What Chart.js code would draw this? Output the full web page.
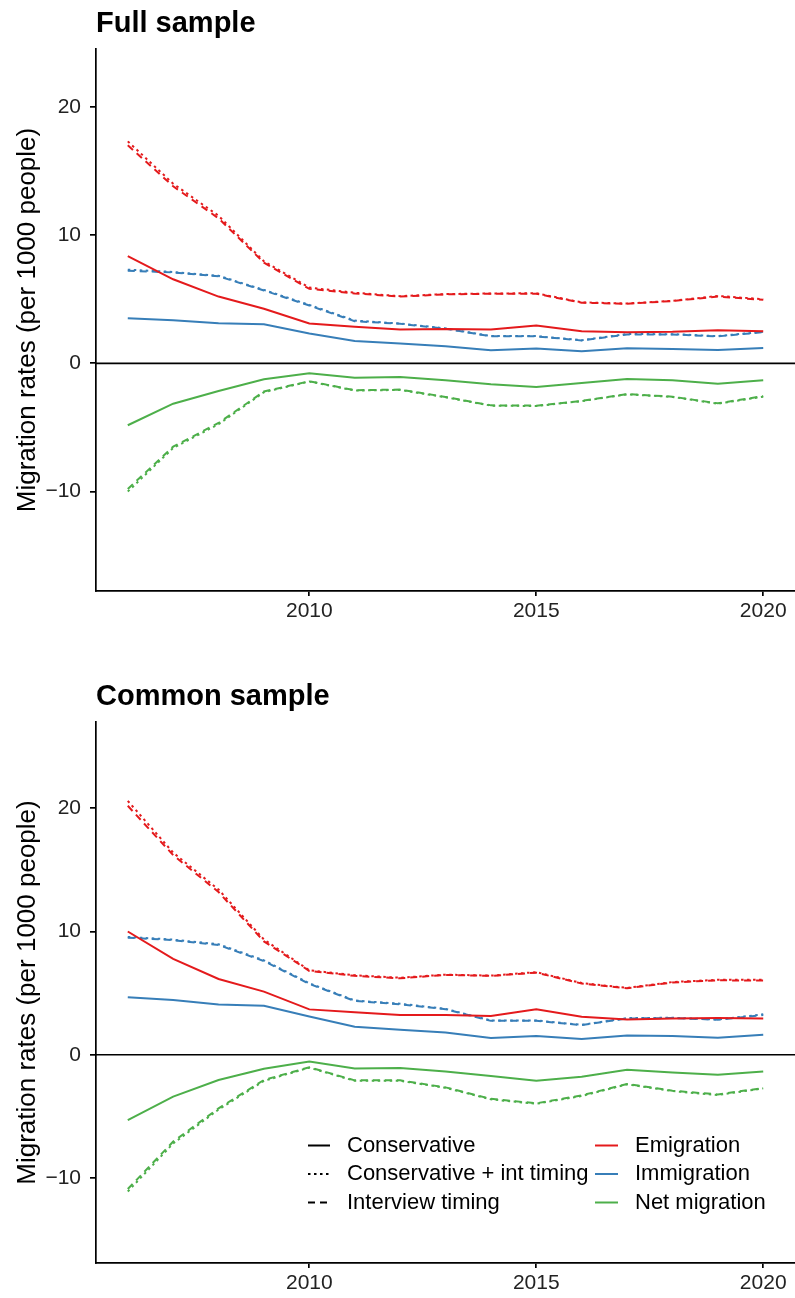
<!DOCTYPE html>
<html>
<head>
<meta charset="utf-8">
<title>Migration rates</title>
<script src="https://cdn.jsdelivr.net/npm/chart.js@4.4.1/dist/chart.umd.min.js"></script>
<style>
  html, body { margin: 0; padding: 0; background: #fff; }
  .panel { position: absolute; left: 0; width: 795px; height: 649px; }
</style>
</head>
<body>
<div class="panel" style="top:0"><canvas id="fullChart"></canvas></div>
<div class="panel" style="top:649px"><canvas id="commonChart"></canvas></div>
<script>
const years = [2006, 2007, 2008, 2009, 2010, 2011, 2012, 2013, 2014, 2015, 2016, 2017, 2018, 2019, 2020];
const xTicks = [2010, 2015, 2020];
const yTicks = [-10, 0, 10, 20];

// Full sample (per 1000 people)
const fullEmigCons    = [8.35, 6.55, 5.2, 4.25, 3.1, 2.84, 2.63, 2.68, 2.63, 2.94, 2.5, 2.42, 2.45, 2.58, 2.5];
const fullEmigConsInt = [17.3, 14.0, 11.5, 7.95, 5.9, 5.5, 5.23, 5.4, 5.44, 5.46, 4.75, 4.66, 4.87, 5.25, 5.0];
const fullEmigInt     = [17.0, 13.8, 11.3, 7.85, 5.8, 5.45, 5.2, 5.37, 5.42, 5.42, 4.72, 4.64, 4.85, 5.2, 4.95];
const fullImmCons     = [3.52, 3.36, 3.12, 3.05, 2.32, 1.74, 1.54, 1.33, 1.02, 1.15, 0.94, 1.17, 1.12, 1.04, 1.2];
const fullImmConsInt  = [7.3, 7.12, 6.82, 5.72, 4.55, 3.33, 3.1, 2.72, 2.12, 2.12, 1.8, 2.28, 2.27, 2.12, 2.46];
const fullImmInt      = [7.22, 7.08, 6.78, 5.68, 4.5, 3.28, 3.08, 2.7, 2.1, 2.1, 1.78, 2.25, 2.25, 2.1, 2.43];
const fullNetCons     = [-4.83, -3.15, -2.16, -1.25, -0.78, -1.12, -1.07, -1.33, -1.64, -1.85, -1.54, -1.22, -1.33, -1.59, -1.33];
const fullNetConsInt  = [-10.0, -6.6, -4.75, -2.25, -1.42, -2.12, -2.08, -2.65, -3.3, -3.33, -2.95, -2.42, -2.62, -3.15, -2.6];
const fullNetInt      = [-9.8, -6.5, -4.65, -2.2, -1.4, -2.1, -2.05, -2.62, -3.28, -3.3, -2.93, -2.4, -2.6, -3.12, -2.56];

// Common sample (per 1000 people)
const commonEmigCons    = [10.0, 7.78, 6.15, 5.12, 3.68, 3.44, 3.22, 3.22, 3.14, 3.68, 3.09, 2.85, 2.95, 2.98, 2.95];
const commonEmigConsInt = [20.6, 16.4, 13.4, 9.35, 6.85, 6.45, 6.25, 6.5, 6.42, 6.7, 5.82, 5.42, 5.9, 6.08, 6.08];
const commonEmigInt     = [20.2, 16.2, 13.2, 9.2, 6.8, 6.4, 6.2, 6.48, 6.4, 6.66, 5.78, 5.4, 5.86, 6.04, 6.02];
const commonImmCons     = [4.66, 4.44, 4.07, 3.98, 3.1, 2.28, 2.03, 1.81, 1.36, 1.52, 1.27, 1.57, 1.52, 1.38, 1.63];
const commonImmConsInt  = [9.56, 9.34, 8.96, 7.66, 5.8, 4.4, 4.14, 3.72, 2.78, 2.78, 2.42, 2.97, 3.0, 2.86, 3.28];
const commonImmInt      = [9.5, 9.3, 8.9, 7.6, 5.75, 4.36, 4.1, 3.7, 2.75, 2.75, 2.4, 2.94, 2.98, 2.84, 3.22];
const commonNetCons     = [-5.3, -3.4, -2.05, -1.14, -0.56, -1.11, -1.08, -1.36, -1.73, -2.11, -1.79, -1.22, -1.44, -1.63, -1.36];
const commonNetConsInt  = [-11.1, -7.2, -4.45, -2.12, -1.05, -2.12, -2.12, -2.68, -3.62, -3.98, -3.35, -2.4, -2.95, -3.27, -2.73];
const commonNetInt      = [-10.9, -7.05, -4.35, -2.05, -1.02, -2.08, -2.08, -2.65, -3.58, -3.94, -3.3, -2.37, -2.92, -3.22, -2.7];

const lineTypeLabels = ['Conservative', 'Conservative + int timing', 'Interview timing'];
const seriesLabels = ['Emigration', 'Immigration', 'Net migration'];

const FONT = "'Liberation Sans', Arial, Helvetica, sans-serif";
Chart.defaults.font.family = FONT;

const colours = ['#e41a1c', '#377eb8', '#4daf4a'];
const dashes = [[], [2.5, 3.5], [7, 5]];
const LINE_W = 2;

function makeDatasets(groups) {
    // groups: one [cons, consInt, int] triple per series
    const sets = [];
    groups.forEach((triple, s) => {
        triple.forEach((vals, t) => {
            sets.push({
                label: seriesLabels[s] + ' - ' + lineTypeLabels[t],
                data: years.map((yr, i) => ({ x: yr, y: vals[i] })),
                borderColor: colours[s],
                borderDash: dashes[t],
                borderWidth: LINE_W,
                pointRadius: 0,
                tension: 0,
                fill: false,
            });
        });
    });
    return sets;
}

const zeroLine = {
    id: 'zeroLine',
    beforeDatasetsDraw(chart) {
        const { ctx, chartArea, scales } = chart;
        const y = scales.y.getPixelForValue(0);
        ctx.save();
        ctx.strokeStyle = '#000';
        ctx.lineWidth = 1.7;
        ctx.beginPath();
        ctx.moveTo(chartArea.left, y);
        ctx.lineTo(chartArea.right, y);
        ctx.stroke();
        ctx.restore();
    }
};

// two-column legend: line types on the left, series colours on the right
const twoColumnLegend = {
    id: 'twoColumnLegend',
    afterDraw(chart) {
        const ctx = chart.ctx;
        const rowY = [496.5, 525, 553.5];
        ctx.save();
        ctx.font = '22px ' + FONT;
        ctx.textBaseline = 'middle';
        ctx.textAlign = 'left';
        ctx.fillStyle = '#000';
        ctx.lineWidth = LINE_W;
        lineTypeLabels.forEach((label, i) => {
            ctx.strokeStyle = '#000';
            ctx.setLineDash(dashes[i]);
            ctx.beginPath();
            ctx.moveTo(308, rowY[i]);
            ctx.lineTo(330, rowY[i]);
            ctx.stroke();
            ctx.fillText(label, 347, rowY[i]);
        });
        seriesLabels.forEach((label, i) => {
            ctx.strokeStyle = colours[i];
            ctx.setLineDash([]);
            ctx.beginPath();
            ctx.moveTo(595, rowY[i]);
            ctx.lineTo(618, rowY[i]);
            ctx.stroke();
            ctx.fillText(label, 635, rowY[i]);
        });
        ctx.restore();
    }
};

function makeOptions(title, yMin, yMax, padTop, xAxisHeight) {
    return {
        responsive: true,
        maintainAspectRatio: false,
        animation: false,
        layout: { padding: { top: padTop, left: 0, right: 0, bottom: 0 } },
        plugins: {
            legend: { display: false },
            tooltip: { enabled: false },
            title: {
                display: true,
                text: title,
                align: 'start',
                fullSize: false,
                color: '#000',
                font: { size: 29, weight: 'bold' },
                padding: { top: 7, bottom: 7.2 },
            },
        },
        scales: {
            x: {
                type: 'linear',
                min: 2005.3,
                max: 2020.7,
                afterBuildTicks: s => { s.ticks = xTicks.map(v => ({ value: v })); },
                afterFit: s => { s.height = xAxisHeight; },
                border: { display: true, color: '#000', width: 1.7 },
                grid: { drawOnChartArea: false, drawTicks: true, tickLength: 5, color: '#000', lineWidth: 1.7 },
                ticks: { color: '#222', font: { size: 21 }, padding: 3, maxRotation: 0, callback: v => String(v) },
            },
            y: {
                min: yMin,
                max: yMax,
                afterBuildTicks: s => { s.ticks = yTicks.map(v => ({ value: v })); },
                afterFit: s => { s.width = 96; },
                border: { display: true, color: '#000', width: 1.7 },
                grid: { drawOnChartArea: false, drawTicks: true, tickLength: 6, color: '#000', lineWidth: 1.7 },
                ticks: {
                    color: '#222',
                    font: { size: 21 },
                    padding: 9,
                    callback: v => (v < 0 ? '\u2212' + Math.abs(v) : String(v)),
                },
                title: {
                    display: true,
                    text: 'Migration rates (per 1000 people)',
                    color: '#000',
                    font: { size: 26 },
                    padding: { top: 12, bottom: 0 },
                },
            },
        },
    };
}

new Chart(document.getElementById('fullChart'), {
    type: 'line',
    data: {
        datasets: makeDatasets([
            [fullEmigCons, fullEmigConsInt, fullEmigInt],
            [fullImmCons, fullImmConsInt, fullImmInt],
            [fullNetCons, fullNetConsInt, fullNetInt],
        ]),
    },
    options: makeOptions('Full sample', -17.75, 24.5, 0, 58),
    plugins: [zeroLine],
});

new Chart(document.getElementById('commonChart'), {
    type: 'line',
    data: {
        datasets: makeDatasets([
            [commonEmigCons, commonEmigConsInt, commonEmigInt],
            [commonImmCons, commonImmConsInt, commonImmInt],
            [commonNetCons, commonNetConsInt, commonNetInt],
        ]),
    },
    options: makeOptions('Common sample', -16.9, 27.0, 24, 35),
    plugins: [zeroLine, twoColumnLegend],
});
</script>
</body>
</html>
